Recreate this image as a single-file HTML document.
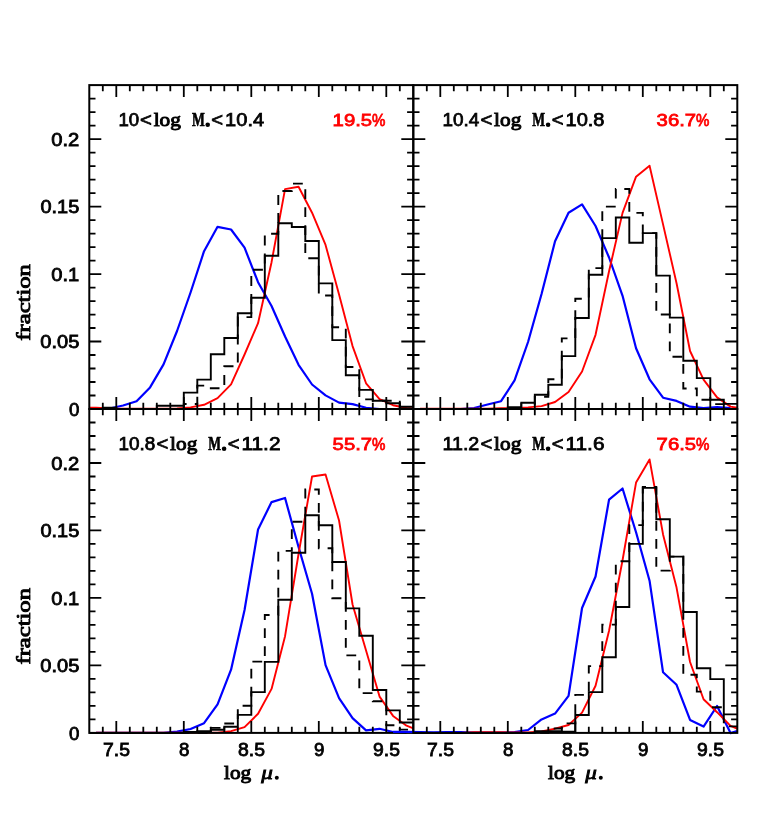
<!DOCTYPE html>
<html><head><meta charset="utf-8"><title>fraction vs log mu</title>
<style>html,body{margin:0;padding:0;background:#fff}svg{display:block}</style></head>
<body><svg width="763" height="837" viewBox="0 0 763 837">
<rect width="763" height="837" fill="#fff"/>
<polyline points="96.05,409 109.55,408.5 123.05,405.5 136.55,401.3 150.05,387.4 163.55,364.4 177.05,331 190.55,292.5 204.05,251.2 217.55,226.8 231.05,229.5 244.55,247.7 258.05,282.2 271.55,306 285.05,336.5 298.55,364.8 312.05,384.5 325.55,395.4 339.05,402.6 352.55,404.1 366.05,407.8 379.55,409 393.05,409 406.55,409" fill="none" stroke="#00f" stroke-width="2.2" stroke-linejoin="round"/>
<polyline points="89.3,407.6 96.05,407.6 109.55,408.5 123.05,408.8 136.55,408.8 150.05,408.7 163.55,408.6 177.05,408.4 190.55,407.4 204.05,404.8 217.55,398.2 231.05,384.4 244.55,354.5 258.05,323.2 271.55,262.2 285.05,189.1 298.55,186.7 312.05,212.7 325.55,244.9 339.05,294.6 352.55,346.1 366.05,383.3 379.55,399.2 393.05,405.2 406.55,408 413,408.4" fill="none" stroke="#f00" stroke-width="1.9" stroke-linejoin="round"/>
<path d="M89.3 409 L89.3 409 L102.8 409 L102.8 407.7 L116.3 407.7 L116.3 409 L129.8 409 L129.8 409 L143.3 409 L143.3 409 L156.8 409 L156.8 405.7 L170.3 405.7 L170.3 405.7 L183.8 405.7 L183.8 392.6 L197.3 392.6 L197.3 379.6 L210.8 379.6 L210.8 354.3 L224.3 354.3 L224.3 338 L237.8 338 L237.8 313.3 L251.3 313.3 L251.3 297.7 L264.8 297.7 L264.8 255.7 L278.3 255.7 L278.3 223.2 L291.8 223.2 L291.8 227 L305.3 227 L305.3 241 L318.8 241 L318.8 283.4 L332.3 283.4 L332.3 340.1 L345.8 340.1 L345.8 375.3 L359.3 375.3 L359.3 389.9 L372.8 389.9 L372.8 400.8 L386.3 400.8 L386.3 403.3 L399.8 403.3 L399.8 406.8 L413.3 406.8" fill="none" stroke="#000" stroke-width="1.9" stroke-linejoin="miter"/>
<path d="M89.3 409 L89.3 409 L102.8 409 L102.8 409 L116.3 409 L116.3 409 L129.8 409 L129.8 409 L143.3 409 L143.3 409 L156.8 409 L156.8 409 L170.3 409 L170.3 409 L183.8 409 L183.8 404 L197.3 404 L197.3 385.6 L210.8 385.6 L210.8 388.3 L224.3 388.3 L224.3 366.3 L237.8 366.3 L237.8 317.1 L251.3 317.1 L251.3 269.7 L264.8 269.7 L264.8 233.7 L278.3 233.7 L278.3 191 L291.8 191 L291.8 183.6 L305.3 183.6 L305.3 258.3 L318.8 258.3 L318.8 295.5 L332.3 295.5 L332.3 327.3 L345.8 327.3 L345.8 367 L359.3 367 L359.3 399.4 L372.8 399.4 L372.8 400.7 L386.3 400.7 L386.3 400.7 L399.8 400.7 L399.8 409 L413.3 409" fill="none" stroke="#000" stroke-width="1.9" stroke-dasharray="9.8 8.2" stroke-dashoffset="15.5"/>
<path d="M102.8 409v-6.2M102.8 85.1v6.2M116.3 409v-12M116.3 85.1v12M129.8 409v-6.2M129.8 85.1v6.2M143.3 409v-6.2M143.3 85.1v6.2M156.8 409v-6.2M156.8 85.1v6.2M170.3 409v-6.2M170.3 85.1v6.2M183.8 409v-12M183.8 85.1v12M197.3 409v-6.2M197.3 85.1v6.2M210.8 409v-6.2M210.8 85.1v6.2M224.3 409v-6.2M224.3 85.1v6.2M237.8 409v-6.2M237.8 85.1v6.2M251.3 409v-12M251.3 85.1v12M264.8 409v-6.2M264.8 85.1v6.2M278.3 409v-6.2M278.3 85.1v6.2M291.8 409v-6.2M291.8 85.1v6.2M305.3 409v-6.2M305.3 85.1v6.2M318.8 409v-12M318.8 85.1v12M332.3 409v-6.2M332.3 85.1v6.2M345.8 409v-6.2M345.8 85.1v6.2M359.3 409v-6.2M359.3 85.1v6.2M372.8 409v-6.2M372.8 85.1v6.2M386.3 409v-12M386.3 85.1v12M399.8 409v-6.2M399.8 85.1v6.2M89.3 395.5h6.2M413.3 395.5h-6.2M89.3 382.01h6.2M413.3 382.01h-6.2M89.3 368.51h6.2M413.3 368.51h-6.2M89.3 355.02h6.2M413.3 355.02h-6.2M89.3 341.52h12M413.3 341.52h-12M89.3 328.02h6.2M413.3 328.02h-6.2M89.3 314.53h6.2M413.3 314.53h-6.2M89.3 301.03h6.2M413.3 301.03h-6.2M89.3 287.54h6.2M413.3 287.54h-6.2M89.3 274.04h12M413.3 274.04h-12M89.3 260.55h6.2M413.3 260.55h-6.2M89.3 247.05h6.2M413.3 247.05h-6.2M89.3 233.55h6.2M413.3 233.55h-6.2M89.3 220.06h6.2M413.3 220.06h-6.2M89.3 206.56h12M413.3 206.56h-12M89.3 193.07h6.2M413.3 193.07h-6.2M89.3 179.57h6.2M413.3 179.57h-6.2M89.3 166.08h6.2M413.3 166.08h-6.2M89.3 152.58h6.2M413.3 152.58h-6.2M89.3 139.08h12M413.3 139.08h-12M89.3 125.59h6.2M413.3 125.59h-6.2M89.3 112.09h6.2M413.3 112.09h-6.2M89.3 98.6h6.2M413.3 98.6h-6.2" fill="none" stroke="#000" stroke-width="1.8"/>
<rect x="89.3" y="85.1" width="324" height="323.9" fill="none" stroke="#000" stroke-width="2"/>
<polyline points="420.05,409 433.55,409 447.05,409 460.55,409 474.05,408 487.55,404.5 501.05,401.2 514.55,380.4 528.05,342 541.55,294 555.05,241.3 568.55,212.7 582.05,204.4 595.55,226 609.05,257.5 622.55,295.8 636.05,348.2 649.55,379.3 663.05,397.7 676.55,400.9 690.05,406.7 703.55,408 717.05,407.2 730.55,408" fill="none" stroke="#00f" stroke-width="2.2" stroke-linejoin="round"/>
<polyline points="420.05,408.7 433.55,408.7 447.05,408.7 460.55,408.7 474.05,408.7 487.55,408.7 501.05,408.3 514.55,408.3 528.05,407.4 541.55,406.1 555.05,402 568.55,391.9 582.05,371.5 595.55,334.8 609.05,271.3 622.55,212.9 636.05,176.7 649.55,165.7 663.05,224.4 676.55,283.2 690.05,351 703.55,379.7 717.05,397.4 730.55,406.6 737,407.8" fill="none" stroke="#f00" stroke-width="1.9" stroke-linejoin="round"/>
<path d="M413.3 409 L413.3 409 L426.8 409 L426.8 409 L440.3 409 L440.3 409 L453.8 409 L453.8 409 L467.3 409 L467.3 409 L480.8 409 L480.8 409 L494.3 409 L494.3 409 L507.8 409 L507.8 407.3 L521.3 407.3 L521.3 402.7 L534.8 402.7 L534.8 394.8 L548.3 394.8 L548.3 384.7 L561.8 384.7 L561.8 356.1 L575.3 356.1 L575.3 318 L588.8 318 L588.8 274.7 L602.3 274.7 L602.3 238.1 L615.8 238.1 L615.8 217.5 L629.3 217.5 L629.3 242.8 L642.8 242.8 L642.8 233.1 L656.3 233.1 L656.3 275.6 L669.8 275.6 L669.8 317.6 L683.3 317.6 L683.3 360.8 L696.8 360.8 L696.8 378.1 L710.3 378.1 L710.3 399.8 L723.8 399.8 L723.8 403.9 L737.3 403.9" fill="none" stroke="#000" stroke-width="1.9" stroke-linejoin="miter"/>
<path d="M413.3 409 L413.3 409 L426.8 409 L426.8 409 L440.3 409 L440.3 409 L453.8 409 L453.8 409 L467.3 409 L467.3 409 L480.8 409 L480.8 409 L494.3 409 L494.3 409 L507.8 409 L507.8 409 L521.3 409 L521.3 409 L534.8 409 L534.8 396.8 L548.3 396.8 L548.3 379.3 L561.8 379.3 L561.8 338.4 L575.3 338.4 L575.3 298.7 L588.8 298.7 L588.8 268.1 L602.3 268.1 L602.3 206.6 L615.8 206.6 L615.8 189 L629.3 189 L629.3 212.9 L642.8 212.9 L642.8 233.1 L656.3 233.1 L656.3 314.5 L669.8 314.5 L669.8 356.8 L683.3 356.8 L683.3 388.5 L696.8 388.5 L696.8 399.8 L710.3 399.8 L710.3 404.1 L723.8 404.1 L723.8 409 L737.3 409" fill="none" stroke="#000" stroke-width="1.9" stroke-dasharray="9.8 8.2" stroke-dashoffset="1"/>
<path d="M426.8 409v-6.2M426.8 85.1v6.2M440.3 409v-12M440.3 85.1v12M453.8 409v-6.2M453.8 85.1v6.2M467.3 409v-6.2M467.3 85.1v6.2M480.8 409v-6.2M480.8 85.1v6.2M494.3 409v-6.2M494.3 85.1v6.2M507.8 409v-12M507.8 85.1v12M521.3 409v-6.2M521.3 85.1v6.2M534.8 409v-6.2M534.8 85.1v6.2M548.3 409v-6.2M548.3 85.1v6.2M561.8 409v-6.2M561.8 85.1v6.2M575.3 409v-12M575.3 85.1v12M588.8 409v-6.2M588.8 85.1v6.2M602.3 409v-6.2M602.3 85.1v6.2M615.8 409v-6.2M615.8 85.1v6.2M629.3 409v-6.2M629.3 85.1v6.2M642.8 409v-12M642.8 85.1v12M656.3 409v-6.2M656.3 85.1v6.2M669.8 409v-6.2M669.8 85.1v6.2M683.3 409v-6.2M683.3 85.1v6.2M696.8 409v-6.2M696.8 85.1v6.2M710.3 409v-12M710.3 85.1v12M723.8 409v-6.2M723.8 85.1v6.2M413.3 395.5h6.2M737.3 395.5h-6.2M413.3 382.01h6.2M737.3 382.01h-6.2M413.3 368.51h6.2M737.3 368.51h-6.2M413.3 355.02h6.2M737.3 355.02h-6.2M413.3 341.52h12M737.3 341.52h-12M413.3 328.02h6.2M737.3 328.02h-6.2M413.3 314.53h6.2M737.3 314.53h-6.2M413.3 301.03h6.2M737.3 301.03h-6.2M413.3 287.54h6.2M737.3 287.54h-6.2M413.3 274.04h12M737.3 274.04h-12M413.3 260.55h6.2M737.3 260.55h-6.2M413.3 247.05h6.2M737.3 247.05h-6.2M413.3 233.55h6.2M737.3 233.55h-6.2M413.3 220.06h6.2M737.3 220.06h-6.2M413.3 206.56h12M737.3 206.56h-12M413.3 193.07h6.2M737.3 193.07h-6.2M413.3 179.57h6.2M737.3 179.57h-6.2M413.3 166.08h6.2M737.3 166.08h-6.2M413.3 152.58h6.2M737.3 152.58h-6.2M413.3 139.08h12M737.3 139.08h-12M413.3 125.59h6.2M737.3 125.59h-6.2M413.3 112.09h6.2M737.3 112.09h-6.2M413.3 98.6h6.2M737.3 98.6h-6.2" fill="none" stroke="#000" stroke-width="1.8"/>
<rect x="413.3" y="85.1" width="324" height="323.9" fill="none" stroke="#000" stroke-width="2"/>
<polyline points="96.05,732.9 109.55,732.9 123.05,732.9 136.55,732.9 150.05,732.9 163.55,732.9 177.05,731.7 190.55,729 204.05,723.2 217.55,704.3 231.05,669.7 244.55,610 258.05,529.5 271.55,502.1 285.05,498 298.55,547 312.05,593.8 325.55,665.1 339.05,698.1 352.55,718.1 366.05,730.4 379.55,728.8 393.05,732 406.55,732.7" fill="none" stroke="#00f" stroke-width="2.2" stroke-linejoin="round"/>
<polyline points="96.05,732.6 109.55,732.6 123.05,732.6 136.55,732.6 150.05,732.6 163.55,732.6 177.05,732.6 190.55,732.6 204.05,732.6 217.55,732.6 231.05,731.1 244.55,727.1 258.05,713.8 271.55,688.9 285.05,636.2 298.55,554 312.05,476.5 325.55,474.5 339.05,520.5 352.55,604.5 366.05,650.5 379.55,696.6 393.05,715.9 406.55,725.7 413.3,728.4" fill="none" stroke="#f00" stroke-width="1.9" stroke-linejoin="round"/>
<path d="M89.3 732.9 L89.3 732.9 L102.8 732.9 L102.8 732.9 L116.3 732.9 L116.3 732.9 L129.8 732.9 L129.8 732.9 L143.3 732.9 L143.3 732.9 L156.8 732.9 L156.8 732.9 L170.3 732.9 L170.3 732.9 L183.8 732.9 L183.8 732 L197.3 732 L197.3 731.1 L210.8 731.1 L210.8 729.8 L224.3 729.8 L224.3 726.7 L237.8 726.7 L237.8 714.9 L251.3 714.9 L251.3 692.1 L264.8 692.1 L264.8 661.9 L278.3 661.9 L278.3 599.7 L291.8 599.7 L291.8 552.7 L305.3 552.7 L305.3 515.2 L318.8 515.2 L318.8 525.3 L332.3 525.3 L332.3 562 L345.8 562 L345.8 608.4 L359.3 608.4 L359.3 635.8 L372.8 635.8 L372.8 690 L386.3 690 L386.3 710.4 L399.8 710.4 L399.8 722.5 L413.3 722.5" fill="none" stroke="#000" stroke-width="1.9" stroke-linejoin="miter"/>
<path d="M89.3 732.9 L89.3 732.9 L102.8 732.9 L102.8 732.9 L116.3 732.9 L116.3 732.9 L129.8 732.9 L129.8 732.9 L143.3 732.9 L143.3 732.9 L156.8 732.9 L156.8 732.9 L170.3 732.9 L170.3 732.9 L183.8 732.9 L183.8 732.9 L197.3 732.9 L197.3 732.9 L210.8 732.9 L210.8 727.9 L224.3 727.9 L224.3 723.5 L237.8 723.5 L237.8 705.8 L251.3 705.8 L251.3 661.6 L264.8 661.6 L264.8 615 L278.3 615 L278.3 550.9 L291.8 550.9 L291.8 521.8 L305.3 521.8 L305.3 489.5 L318.8 489.5 L318.8 548.2 L332.3 548.2 L332.3 598.2 L345.8 598.2 L345.8 655.4 L359.3 655.4 L359.3 693.1 L372.8 693.1 L372.8 701.3 L386.3 701.3 L386.3 725.2 L399.8 725.2 L399.8 729.6 L413.3 729.6" fill="none" stroke="#000" stroke-width="1.9" stroke-dasharray="9.8 8.2" stroke-dashoffset="17.6"/>
<path d="M102.8 732.9v-6.2M102.8 409v6.2M116.3 732.9v-12M116.3 409v12M129.8 732.9v-6.2M129.8 409v6.2M143.3 732.9v-6.2M143.3 409v6.2M156.8 732.9v-6.2M156.8 409v6.2M170.3 732.9v-6.2M170.3 409v6.2M183.8 732.9v-12M183.8 409v12M197.3 732.9v-6.2M197.3 409v6.2M210.8 732.9v-6.2M210.8 409v6.2M224.3 732.9v-6.2M224.3 409v6.2M237.8 732.9v-6.2M237.8 409v6.2M251.3 732.9v-12M251.3 409v12M264.8 732.9v-6.2M264.8 409v6.2M278.3 732.9v-6.2M278.3 409v6.2M291.8 732.9v-6.2M291.8 409v6.2M305.3 732.9v-6.2M305.3 409v6.2M318.8 732.9v-12M318.8 409v12M332.3 732.9v-6.2M332.3 409v6.2M345.8 732.9v-6.2M345.8 409v6.2M359.3 732.9v-6.2M359.3 409v6.2M372.8 732.9v-6.2M372.8 409v6.2M386.3 732.9v-12M386.3 409v12M399.8 732.9v-6.2M399.8 409v6.2M89.3 719.4h6.2M413.3 719.4h-6.2M89.3 705.91h6.2M413.3 705.91h-6.2M89.3 692.41h6.2M413.3 692.41h-6.2M89.3 678.92h6.2M413.3 678.92h-6.2M89.3 665.42h12M413.3 665.42h-12M89.3 651.92h6.2M413.3 651.92h-6.2M89.3 638.43h6.2M413.3 638.43h-6.2M89.3 624.93h6.2M413.3 624.93h-6.2M89.3 611.44h6.2M413.3 611.44h-6.2M89.3 597.94h12M413.3 597.94h-12M89.3 584.45h6.2M413.3 584.45h-6.2M89.3 570.95h6.2M413.3 570.95h-6.2M89.3 557.45h6.2M413.3 557.45h-6.2M89.3 543.96h6.2M413.3 543.96h-6.2M89.3 530.46h12M413.3 530.46h-12M89.3 516.97h6.2M413.3 516.97h-6.2M89.3 503.47h6.2M413.3 503.47h-6.2M89.3 489.98h6.2M413.3 489.98h-6.2M89.3 476.48h6.2M413.3 476.48h-6.2M89.3 462.98h12M413.3 462.98h-12M89.3 449.49h6.2M413.3 449.49h-6.2M89.3 435.99h6.2M413.3 435.99h-6.2M89.3 422.5h6.2M413.3 422.5h-6.2" fill="none" stroke="#000" stroke-width="1.8"/>
<rect x="89.3" y="409" width="324" height="323.9" fill="none" stroke="#000" stroke-width="2"/>
<polyline points="393.05,731.9 406.55,731.8 420.05,732.1 433.55,732.3 447.05,732.1 460.55,732.2 474.05,732.6 487.55,732.6 501.05,732.6 514.55,732.2 528.05,730 541.55,719.4 555.05,713.6 568.55,695.9 582.05,608 595.55,576.5 609.05,499.6 622.55,488.5 636.05,532.3 649.55,580.7 663.05,672.3 676.55,684.8 690.05,719.9 703.55,726.6 717.05,706 730.55,733.1 737,731" fill="none" stroke="#00f" stroke-width="2.2" stroke-linejoin="round"/>
<polyline points="420.05,732.9 433.55,732.9 447.05,732.9 460.55,732.9 474.05,732.3 487.55,732.1 501.05,732.2 514.55,732.5 528.05,732.4 541.55,731.5 555.05,728.7 568.55,725 582.05,712.6 595.55,685.8 609.05,630.7 622.55,560.2 636.05,482.6 649.55,459.4 663.05,534.4 676.55,587.6 690.05,662 703.55,699.3 717.05,712.2 730.55,725.9 737,728.5" fill="none" stroke="#f00" stroke-width="1.9" stroke-linejoin="round"/>
<path d="M413.3 732.9 L413.3 732.9 L426.8 732.9 L426.8 732.9 L440.3 732.9 L440.3 732.9 L453.8 732.9 L453.8 732.9 L467.3 732.9 L467.3 732.9 L480.8 732.9 L480.8 732.9 L494.3 732.9 L494.3 732.9 L507.8 732.9 L507.8 732.9 L521.3 732.9 L521.3 732.9 L534.8 732.9 L534.8 731.2 L548.3 731.2 L548.3 731.2 L561.8 731.2 L561.8 731.7 L575.3 731.7 L575.3 715 L588.8 715 L588.8 692.1 L602.3 692.1 L602.3 657.2 L615.8 657.2 L615.8 607 L629.3 607 L629.3 543.9 L642.8 543.9 L642.8 487.9 L656.3 487.9 L656.3 519.2 L669.8 519.2 L669.8 556.6 L683.3 556.6 L683.3 612 L696.8 612 L696.8 668.3 L710.3 668.3 L710.3 679.1 L723.8 679.1 L723.8 714.4 L737.3 714.4" fill="none" stroke="#000" stroke-width="1.9" stroke-linejoin="miter"/>
<path d="M413.3 732.9 L413.3 732.9 L426.8 732.9 L426.8 732.9 L440.3 732.9 L440.3 732.9 L453.8 732.9 L453.8 732.9 L467.3 732.9 L467.3 732.9 L480.8 732.9 L480.8 732.9 L494.3 732.9 L494.3 732.9 L507.8 732.9 L507.8 732.9 L521.3 732.9 L521.3 732.9 L534.8 732.9 L534.8 732.9 L548.3 732.9 L548.3 728.5 L561.8 728.5 L561.8 723.4 L575.3 723.4 L575.3 694.9 L588.8 694.9 L588.8 666.1 L602.3 666.1 L602.3 624.6 L615.8 624.6 L615.8 561.3 L629.3 561.3 L629.3 525.1 L642.8 525.1 L642.8 487 L656.3 487 L656.3 570.6 L669.8 570.6 L669.8 556.6 L683.3 556.6 L683.3 674.7 L696.8 674.7 L696.8 691.6 L710.3 691.6 L710.3 707.2 L723.8 707.2 L723.8 726.4 L737.3 726.4" fill="none" stroke="#000" stroke-width="1.9" stroke-dasharray="9.8 8.2" stroke-dashoffset="17.2"/>
<path d="M426.8 732.9v-6.2M426.8 409v6.2M440.3 732.9v-12M440.3 409v12M453.8 732.9v-6.2M453.8 409v6.2M467.3 732.9v-6.2M467.3 409v6.2M480.8 732.9v-6.2M480.8 409v6.2M494.3 732.9v-6.2M494.3 409v6.2M507.8 732.9v-12M507.8 409v12M521.3 732.9v-6.2M521.3 409v6.2M534.8 732.9v-6.2M534.8 409v6.2M548.3 732.9v-6.2M548.3 409v6.2M561.8 732.9v-6.2M561.8 409v6.2M575.3 732.9v-12M575.3 409v12M588.8 732.9v-6.2M588.8 409v6.2M602.3 732.9v-6.2M602.3 409v6.2M615.8 732.9v-6.2M615.8 409v6.2M629.3 732.9v-6.2M629.3 409v6.2M642.8 732.9v-12M642.8 409v12M656.3 732.9v-6.2M656.3 409v6.2M669.8 732.9v-6.2M669.8 409v6.2M683.3 732.9v-6.2M683.3 409v6.2M696.8 732.9v-6.2M696.8 409v6.2M710.3 732.9v-12M710.3 409v12M723.8 732.9v-6.2M723.8 409v6.2M413.3 719.4h6.2M737.3 719.4h-6.2M413.3 705.91h6.2M737.3 705.91h-6.2M413.3 692.41h6.2M737.3 692.41h-6.2M413.3 678.92h6.2M737.3 678.92h-6.2M413.3 665.42h12M737.3 665.42h-12M413.3 651.92h6.2M737.3 651.92h-6.2M413.3 638.43h6.2M737.3 638.43h-6.2M413.3 624.93h6.2M737.3 624.93h-6.2M413.3 611.44h6.2M737.3 611.44h-6.2M413.3 597.94h12M737.3 597.94h-12M413.3 584.45h6.2M737.3 584.45h-6.2M413.3 570.95h6.2M737.3 570.95h-6.2M413.3 557.45h6.2M737.3 557.45h-6.2M413.3 543.96h6.2M737.3 543.96h-6.2M413.3 530.46h12M737.3 530.46h-12M413.3 516.97h6.2M737.3 516.97h-6.2M413.3 503.47h6.2M737.3 503.47h-6.2M413.3 489.98h6.2M737.3 489.98h-6.2M413.3 476.48h6.2M737.3 476.48h-6.2M413.3 462.98h12M737.3 462.98h-12M413.3 449.49h6.2M737.3 449.49h-6.2M413.3 435.99h6.2M737.3 435.99h-6.2M413.3 422.5h6.2M737.3 422.5h-6.2" fill="none" stroke="#000" stroke-width="1.8"/>
<rect x="413.3" y="409" width="324" height="323.9" fill="none" stroke="#000" stroke-width="2"/>
<g opacity="0.999"><text x="68.9" y="415.6" font-size="17.9" fill="#000" stroke="#000" font-family="'Liberation Sans', sans-serif" stroke-width="0.8" textLength="10.4" lengthAdjust="spacingAndGlyphs">0</text>
<text x="40.3" y="348.1" font-size="17.9" fill="#000" stroke="#000" font-family="'Liberation Sans', sans-serif" stroke-width="0.8" textLength="39" lengthAdjust="spacingAndGlyphs">0.05</text>
<text x="51.3" y="280.6" font-size="17.9" fill="#000" stroke="#000" font-family="'Liberation Sans', sans-serif" stroke-width="0.8" textLength="28" lengthAdjust="spacingAndGlyphs">0.1</text>
<text x="40.5" y="213.1" font-size="17.9" fill="#000" stroke="#000" font-family="'Liberation Sans', sans-serif" stroke-width="0.8" textLength="38.8" lengthAdjust="spacingAndGlyphs">0.15</text>
<text x="51.2" y="145.6" font-size="17.9" fill="#000" stroke="#000" font-family="'Liberation Sans', sans-serif" stroke-width="0.8" textLength="28.1" lengthAdjust="spacingAndGlyphs">0.2</text>
<text x="68.9" y="739.5" font-size="17.9" fill="#000" stroke="#000" font-family="'Liberation Sans', sans-serif" stroke-width="0.8" textLength="10.4" lengthAdjust="spacingAndGlyphs">0</text>
<text x="40.3" y="672" font-size="17.9" fill="#000" stroke="#000" font-family="'Liberation Sans', sans-serif" stroke-width="0.8" textLength="39" lengthAdjust="spacingAndGlyphs">0.05</text>
<text x="51.3" y="604.5" font-size="17.9" fill="#000" stroke="#000" font-family="'Liberation Sans', sans-serif" stroke-width="0.8" textLength="28" lengthAdjust="spacingAndGlyphs">0.1</text>
<text x="40.5" y="537" font-size="17.9" fill="#000" stroke="#000" font-family="'Liberation Sans', sans-serif" stroke-width="0.8" textLength="38.8" lengthAdjust="spacingAndGlyphs">0.15</text>
<text x="51.2" y="469.5" font-size="17.9" fill="#000" stroke="#000" font-family="'Liberation Sans', sans-serif" stroke-width="0.8" textLength="28.1" lengthAdjust="spacingAndGlyphs">0.2</text>
<text x="103" y="755.75" font-size="17.9" fill="#000" stroke="#000" font-family="'Liberation Sans', sans-serif" stroke-width="0.8" textLength="26.9" lengthAdjust="spacingAndGlyphs">7.5</text>
<text x="179.1" y="755.75" font-size="17.9" fill="#000" stroke="#000" font-family="'Liberation Sans', sans-serif" stroke-width="0.8" textLength="10.4" lengthAdjust="spacingAndGlyphs">8</text>
<text x="238" y="755.75" font-size="17.9" fill="#000" stroke="#000" font-family="'Liberation Sans', sans-serif" stroke-width="0.8" textLength="26.9" lengthAdjust="spacingAndGlyphs">8.5</text>
<text x="314.1" y="755.75" font-size="17.9" fill="#000" stroke="#000" font-family="'Liberation Sans', sans-serif" stroke-width="0.8" textLength="10.4" lengthAdjust="spacingAndGlyphs">9</text>
<text x="373" y="755.75" font-size="17.9" fill="#000" stroke="#000" font-family="'Liberation Sans', sans-serif" stroke-width="0.8" textLength="26.9" lengthAdjust="spacingAndGlyphs">9.5</text>
<text x="224" y="778.6" font-size="18.8" fill="#000" stroke="#000" font-family="'Liberation Serif', serif" stroke-width="0.95" textLength="27.2" lengthAdjust="spacingAndGlyphs">log</text>
<text x="261.3" y="778.6" font-size="18.0" fill="#000" stroke="#000" font-family="'Liberation Serif', serif" stroke-width="0.8" textLength="11.6" lengthAdjust="spacingAndGlyphs" font-style="italic">μ</text>
<circle cx="276.8" cy="777.7" r="2.0"/>
<text x="427" y="755.75" font-size="17.9" fill="#000" stroke="#000" font-family="'Liberation Sans', sans-serif" stroke-width="0.8" textLength="26.9" lengthAdjust="spacingAndGlyphs">7.5</text>
<text x="503.1" y="755.75" font-size="17.9" fill="#000" stroke="#000" font-family="'Liberation Sans', sans-serif" stroke-width="0.8" textLength="10.4" lengthAdjust="spacingAndGlyphs">8</text>
<text x="562" y="755.75" font-size="17.9" fill="#000" stroke="#000" font-family="'Liberation Sans', sans-serif" stroke-width="0.8" textLength="26.9" lengthAdjust="spacingAndGlyphs">8.5</text>
<text x="638.1" y="755.75" font-size="17.9" fill="#000" stroke="#000" font-family="'Liberation Sans', sans-serif" stroke-width="0.8" textLength="10.4" lengthAdjust="spacingAndGlyphs">9</text>
<text x="697" y="755.75" font-size="17.9" fill="#000" stroke="#000" font-family="'Liberation Sans', sans-serif" stroke-width="0.8" textLength="26.9" lengthAdjust="spacingAndGlyphs">9.5</text>
<text x="548" y="778.6" font-size="18.8" fill="#000" stroke="#000" font-family="'Liberation Serif', serif" stroke-width="0.95" textLength="27.2" lengthAdjust="spacingAndGlyphs">log</text>
<text x="585.3" y="778.6" font-size="18.0" fill="#000" stroke="#000" font-family="'Liberation Serif', serif" stroke-width="0.8" textLength="11.6" lengthAdjust="spacingAndGlyphs" font-style="italic">μ</text>
<circle cx="600.8" cy="777.7" r="2.0"/>
<text transform="translate(29.6 302.4) rotate(-90)" font-size="19.6" text-anchor="middle" textLength="76.5" lengthAdjust="spacingAndGlyphs" stroke="#000" font-family="'Liberation Serif', serif" stroke-width="0.9">fraction</text>
<text transform="translate(29.6 626.3) rotate(-90)" font-size="19.6" text-anchor="middle" textLength="76.5" lengthAdjust="spacingAndGlyphs" stroke="#000" font-family="'Liberation Serif', serif" stroke-width="0.9">fraction</text>
<text x="118.5" y="126" font-size="17.6" fill="#000" stroke="#000" font-family="'Liberation Sans', sans-serif" stroke-width="0.75" textLength="20.7" lengthAdjust="spacingAndGlyphs">10</text>
<text x="140" y="126.2" font-size="18.6" fill="#000" stroke="#000" font-family="'Liberation Sans', sans-serif" stroke-width="0.75" textLength="11.8" lengthAdjust="spacingAndGlyphs">&lt;</text>
<text x="153.7" y="126.2" font-size="19.5" fill="#000" stroke="#000" font-family="'Liberation Serif', serif" stroke-width="0.95" textLength="27.2" lengthAdjust="spacingAndGlyphs">log</text>
<text x="191.9" y="126.2" font-size="19.5" fill="#000" stroke="#000" font-family="'Liberation Serif', serif" stroke-width="0.7" textLength="12.8" lengthAdjust="spacingAndGlyphs" font-weight="bold">M</text>
<circle cx="207.7" cy="124.8" r="2.3"/>
<text x="211.3" y="126.2" font-size="18.6" fill="#000" stroke="#000" font-family="'Liberation Sans', sans-serif" stroke-width="0.75" textLength="11.8" lengthAdjust="spacingAndGlyphs">&lt;</text>
<text x="225.1" y="126" font-size="17.6" fill="#000" stroke="#000" font-family="'Liberation Sans', sans-serif" stroke-width="0.75" textLength="39" lengthAdjust="spacingAndGlyphs">10.4</text>
<text x="332.6" y="125.8" font-size="17.1" fill="#f00" stroke="#f00" font-family="'Liberation Sans', sans-serif" stroke-width="0.8" textLength="39.5" lengthAdjust="spacingAndGlyphs">19.5</text>
<text x="372.1" y="125.8" font-size="17.1" fill="#f00" stroke="#f00" font-family="'Liberation Sans', sans-serif" stroke-width="0.8" textLength="13.4" lengthAdjust="spacingAndGlyphs">%</text>
<text x="442.5" y="126" font-size="17.6" fill="#000" stroke="#000" font-family="'Liberation Sans', sans-serif" stroke-width="0.75" textLength="36.8" lengthAdjust="spacingAndGlyphs">10.4</text>
<text x="480.4" y="126.2" font-size="18.6" fill="#000" stroke="#000" font-family="'Liberation Sans', sans-serif" stroke-width="0.75" textLength="11.8" lengthAdjust="spacingAndGlyphs">&lt;</text>
<text x="494.1" y="126.2" font-size="19.5" fill="#000" stroke="#000" font-family="'Liberation Serif', serif" stroke-width="0.95" textLength="27.2" lengthAdjust="spacingAndGlyphs">log</text>
<text x="532.3" y="126.2" font-size="19.5" fill="#000" stroke="#000" font-family="'Liberation Serif', serif" stroke-width="0.7" textLength="12.8" lengthAdjust="spacingAndGlyphs" font-weight="bold">M</text>
<circle cx="548.1" cy="124.8" r="2.3"/>
<text x="551.7" y="126.2" font-size="18.6" fill="#000" stroke="#000" font-family="'Liberation Sans', sans-serif" stroke-width="0.75" textLength="11.8" lengthAdjust="spacingAndGlyphs">&lt;</text>
<text x="565.5" y="126" font-size="17.6" fill="#000" stroke="#000" font-family="'Liberation Sans', sans-serif" stroke-width="0.75" textLength="39" lengthAdjust="spacingAndGlyphs">10.8</text>
<text x="656.6" y="125.8" font-size="17.1" fill="#f00" stroke="#f00" font-family="'Liberation Sans', sans-serif" stroke-width="0.8" textLength="39.5" lengthAdjust="spacingAndGlyphs">36.7</text>
<text x="696.1" y="125.8" font-size="17.1" fill="#f00" stroke="#f00" font-family="'Liberation Sans', sans-serif" stroke-width="0.8" textLength="13.4" lengthAdjust="spacingAndGlyphs">%</text>
<text x="118.5" y="449.9" font-size="17.6" fill="#000" stroke="#000" font-family="'Liberation Sans', sans-serif" stroke-width="0.75" textLength="36.8" lengthAdjust="spacingAndGlyphs">10.8</text>
<text x="156.4" y="450.1" font-size="18.6" fill="#000" stroke="#000" font-family="'Liberation Sans', sans-serif" stroke-width="0.75" textLength="11.8" lengthAdjust="spacingAndGlyphs">&lt;</text>
<text x="170.1" y="450.1" font-size="19.5" fill="#000" stroke="#000" font-family="'Liberation Serif', serif" stroke-width="0.95" textLength="27.2" lengthAdjust="spacingAndGlyphs">log</text>
<text x="208.3" y="450.1" font-size="19.5" fill="#000" stroke="#000" font-family="'Liberation Serif', serif" stroke-width="0.7" textLength="12.8" lengthAdjust="spacingAndGlyphs" font-weight="bold">M</text>
<circle cx="224.1" cy="448.7" r="2.3"/>
<text x="227.7" y="450.1" font-size="18.6" fill="#000" stroke="#000" font-family="'Liberation Sans', sans-serif" stroke-width="0.75" textLength="11.8" lengthAdjust="spacingAndGlyphs">&lt;</text>
<text x="241.5" y="449.9" font-size="17.6" fill="#000" stroke="#000" font-family="'Liberation Sans', sans-serif" stroke-width="0.75" textLength="39" lengthAdjust="spacingAndGlyphs">11.2</text>
<text x="332.6" y="449.7" font-size="17.1" fill="#f00" stroke="#f00" font-family="'Liberation Sans', sans-serif" stroke-width="0.8" textLength="39.5" lengthAdjust="spacingAndGlyphs">55.7</text>
<text x="372.1" y="449.7" font-size="17.1" fill="#f00" stroke="#f00" font-family="'Liberation Sans', sans-serif" stroke-width="0.8" textLength="13.4" lengthAdjust="spacingAndGlyphs">%</text>
<text x="442.5" y="449.9" font-size="17.6" fill="#000" stroke="#000" font-family="'Liberation Sans', sans-serif" stroke-width="0.75" textLength="36.8" lengthAdjust="spacingAndGlyphs">11.2</text>
<text x="480.4" y="450.1" font-size="18.6" fill="#000" stroke="#000" font-family="'Liberation Sans', sans-serif" stroke-width="0.75" textLength="11.8" lengthAdjust="spacingAndGlyphs">&lt;</text>
<text x="494.1" y="450.1" font-size="19.5" fill="#000" stroke="#000" font-family="'Liberation Serif', serif" stroke-width="0.95" textLength="27.2" lengthAdjust="spacingAndGlyphs">log</text>
<text x="532.3" y="450.1" font-size="19.5" fill="#000" stroke="#000" font-family="'Liberation Serif', serif" stroke-width="0.7" textLength="12.8" lengthAdjust="spacingAndGlyphs" font-weight="bold">M</text>
<circle cx="548.1" cy="448.7" r="2.3"/>
<text x="551.7" y="450.1" font-size="18.6" fill="#000" stroke="#000" font-family="'Liberation Sans', sans-serif" stroke-width="0.75" textLength="11.8" lengthAdjust="spacingAndGlyphs">&lt;</text>
<text x="565.5" y="449.9" font-size="17.6" fill="#000" stroke="#000" font-family="'Liberation Sans', sans-serif" stroke-width="0.75" textLength="39" lengthAdjust="spacingAndGlyphs">11.6</text>
<text x="656.6" y="449.7" font-size="17.1" fill="#f00" stroke="#f00" font-family="'Liberation Sans', sans-serif" stroke-width="0.8" textLength="39.5" lengthAdjust="spacingAndGlyphs">76.5</text>
<text x="696.1" y="449.7" font-size="17.1" fill="#f00" stroke="#f00" font-family="'Liberation Sans', sans-serif" stroke-width="0.8" textLength="13.4" lengthAdjust="spacingAndGlyphs">%</text></g>
</svg></body></html>
